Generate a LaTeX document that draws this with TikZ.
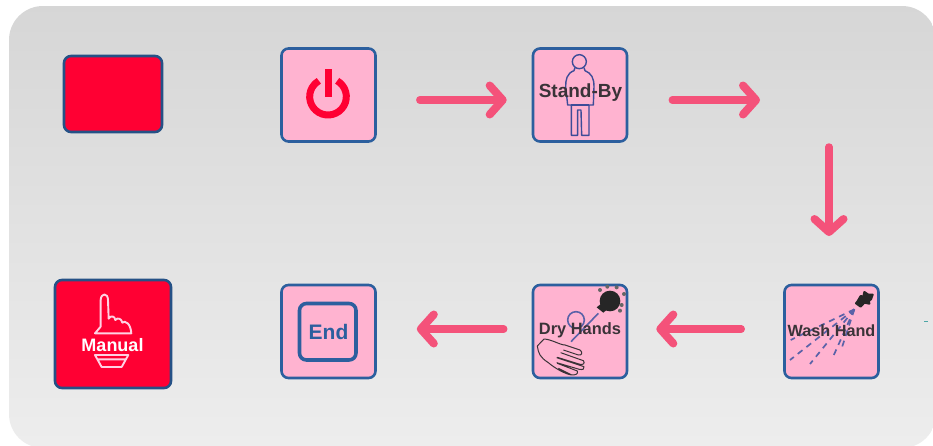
\documentclass[tikz,border=0pt]{standalone}
\usepackage{fontspec}
\setmainfont{Liberation Sans}
\usetikzlibrary{arrows.meta}
\definecolor{panelpink}{HTML}{FFB3D0}
\definecolor{edgeblue}{HTML}{2C5F9E}
\definecolor{hotred}{HTML}{FF0033}
\definecolor{arrowpink}{HTML}{F4527A}
\definecolor{inkdark}{HTML}{3A3338}
\definecolor{linkblue}{HTML}{5A62A8}
\tikzset{
  panel/.style={draw=edgeblue,fill=panelpink,line width=2.6pt,rounded corners=7pt,minimum width=94pt,minimum height=93pt,inner sep=0pt},
  redpanel/.style={draw=edgeblue!85!black,fill=hotred,line width=2.6pt,rounded corners=7pt,inner sep=0pt},
  flow/.style={draw=arrowpink,line width=7.5pt,line cap=round,-{Straight Barb[round,length=13pt,width=29pt,line width=8pt]}},
  caption/.style={font=\bfseries\fontsize{16}{16}\selectfont,text=inkdark,inner sep=0pt},
  thinblue/.style={draw=linkblue,line width=1.6pt},
  thinink/.style={draw=inkdark,line width=1pt,line join=round},
  figureline/.style={draw=edgeblue!80!violet,line width=1.4pt,line join=round},
  manualline/.style={draw=panelpink!60!white,line width=1.9pt,line join=round}
}
\begin{document}
\begin{tikzpicture}[x=1pt,y=-1pt]
\useasboundingbox (0,0) rectangle (933,445);
\fill[white] (0,0) rectangle (933,445);
\shade[top color=black!16,bottom color=black!7,rounded corners=34pt] (9,6) rectangle (936,448);

% nodes
\node[redpanel,minimum width=98pt,minimum height=76pt] (stop) at (113,94) {};
\node[panel] (power) at (328.5,95) {};
\node[panel] (standby) at (580,95) {};
\node[redpanel,minimum width=116pt,minimum height=108pt] (manual) at (113,334) {};
\node[panel] (end) at (328.5,331.5) {};
\node[panel] (dry) at (580,331.5) {};
\node[panel] (wash) at (831.5,331.5) {};
\coordinate (free) at (760,100);
\coordinate (turn) at (829,147);

% connectors
\draw[flow,shorten <=43pt,shorten >=25pt] (power.east |- 0,100) -- (standby.west |- 0,100);
\draw[flow,shorten <=44pt] (standby.east |- 0,100) -- (free);
\draw[flow] (turn) -- (turn |- 0,236);
\draw[flow,shorten <=42pt,shorten >=28pt] (wash.west |- 0,329) -- (dry.east |- 0,329);
\draw[flow,shorten <=28pt,shorten >=40pt] (dry.west |- 0,329) -- (end.east |- 0,329);

% power icon
\begin{scope}[shift={(270,35)},x=.3333pt,y=-.3333pt]
\draw[hotred,line width=7pt] (201.5,137.4) arc[start angle=-60,end angle=240,radius=55];
\fill[hotred] (165,103) rectangle (186,186);
\end{scope}

% standing figure
\begin{scope}[shift={(500,30)},x=.3333pt,y=-.3333pt]
\draw[figureline] (238,95) circle[radius=21];
\draw[figureline]
  (225,113) -- (222,122) .. controls (200,130) and (197,150) .. (197,170) -- (203,225) -- (214,225) -- (214,316) -- (233,316) -- (233,240) -- (243,240) -- (245,316) -- (267,316) -- (267,225) -- (280,225) -- (282,170)
  .. controls (282,145) and (275,130) .. (255,122) -- (252,113);
\draw[figureline] (214,225) -- (267,225);
\end{scope}
\node[caption,font=\bfseries\fontsize{19}{19}\selectfont] at (580.5,93) {Stand-By};

% hand-wash icon
\begin{scope}[shift={(770,270)},x=.3333pt,y=-.3333pt]
\foreach \ex/\ey in {60/270,120/282,187/265,62/210,215/235} {
  \draw[linkblue,line width=1.7pt,dash pattern=on 6pt off 5pt] (253,118) -- (\ex,\ey);
}
\fill[black!85,draw=black!85,line width=2pt,line join=round] (262,95) -- (272,78) -- (280,80) -- (283,66) -- (295,74) -- (308,74) -- (303,88) -- (297,92) -- (298,101) -- (283,98) -- (272,110) -- (258,100) -- cycle;
\end{scope}
\node[caption,font=\bfseries\fontsize{16.2}{16.2}\selectfont] at (831.5,331) {Wash Hand};

% hand-dry icon
\begin{scope}[shift={(520,270)},x=.3333pt,y=-.3333pt]
\draw[thinblue] (168,150) circle[radius=25];
\draw[thinblue] (153,215) -- (235,130);
\fill[black!85] (270,93) circle[radius=31];
\fill[black!85] (230,112) -- (250,128) -- (262,118) -- (245,100) -- cycle;
\foreach \a/\b in {240/60,262/50,290/52,312/72,305/105,300/122} {
  \fill[black!60] (\a,\b) circle[radius=6];
}
\draw[thinink] (52,228) -- (72,207) .. controls (95,208) and (120,225) .. (135,225) -- (180,240) .. controls (190,247) and (185,258) .. (175,255) -- (130,240)
  (122,248) -- (190,272) .. controls (196,280) and (190,285) .. (180,283) -- (112,262)
  (110,263) -- (192,290) .. controls (195,297) and (188,300) .. (178,298) -- (110,278)
  (112,280) -- (172,303) .. controls (175,312) and (168,315) .. (155,315) -- (115,295)
  (52,228) .. controls (55,250) and (60,262) .. (85,278) .. controls (105,295) and (135,312) .. (155,315);
\end{scope}
\node[caption,font=\bfseries\fontsize{16.4}{16.4}\selectfont] at (580,330) {Dry Hands};

% end icon
\draw[draw=edgeblue,line width=3.6pt,rounded corners=7pt] (299.5,303.5) rectangle (356,360);
\node[font=\bfseries\fontsize{21}{21}\selectfont,text=edgeblue,inner sep=0pt] at (328.5,332) {End};

% manual icon
\begin{scope}[shift={(40,270)},x=.3333pt,y=-.3333pt]
\draw[manualline]
  (165,190) -- (182,170) -- (182,90) .. controls (183,68) and (204,68) .. (204,90) -- (206,146)
  .. controls (212,135) and (225,138) .. (226,150) .. controls (232,142) and (245,145) .. (247,158) .. controls (255,150) and (272,160) .. (274,190) -- cycle;
\draw[manualline]
  (165,255) -- (265,255) -- (245,291) -- (185,291) -- cycle (172,268) -- (258,268);
\end{scope}
\node[font=\bfseries\fontsize{18}{18}\selectfont,text=white,inner sep=0pt] at (112.5,345) {Manual};

% speck at the right edge
\draw[teal!70,line width=.8pt] (924,321) -- (928,321);
\end{tikzpicture}
\end{document}
